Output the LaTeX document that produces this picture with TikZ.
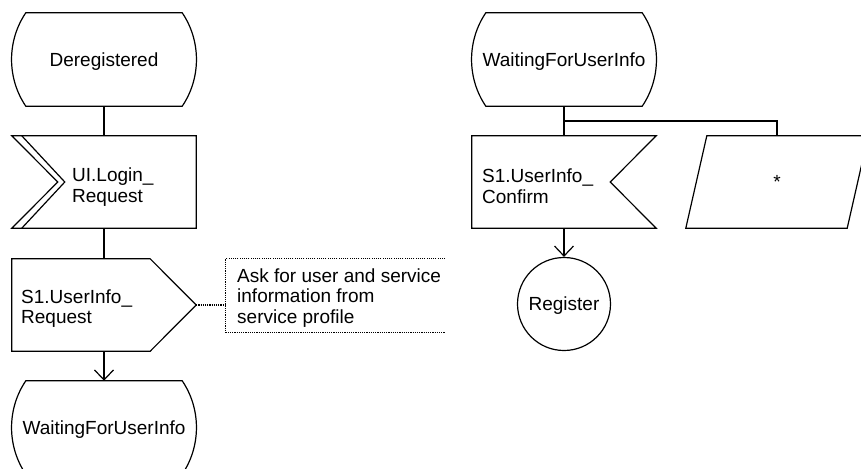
\documentclass[tikz,border=0pt]{standalone}
\usepackage{fontspec}
\setmainfont{Liberation Sans}
\usetikzlibrary{arrows.meta,calc}

\tikzset{
  sdl/.style={line width=1.2pt},
  sdlbox/.style={minimum width=184pt, minimum height=92pt, inner sep=0pt,
    text height=13.6pt, text depth=0pt},
  sdltext/.style={align=left, inner sep=0pt, anchor=base west},
  sdlflow/.style={sdl, -{Straight Barb[length=10pt,width=19pt]}},
  note/.style={line width=1.1pt, dash pattern=on 1.1pt off 1.1pt},
}

\begin{document}
\begin{tikzpicture}[x=1pt, y=-1pt, font=\fontsize{19}{20.5}\selectfont]
  \useasboundingbox (0,0) rectangle (861,468);
  \clip (0,0) rectangle (861,468);
  % left column
  \node[sdlbox, minimum height=93pt] (dereg) at (104,59.5) {Deregistered};
  \node[sdlbox] (login) at (104,182) {};
  \node[sdlbox] (request) at (104,305) {};
  \node[sdlbox, minimum height=93pt] (waitL) at (104,427.5) {WaitingForUserInfo};
  \node[sdlbox, minimum width=219pt, minimum height=73pt] (note) at (335.5,295.5) {};
  % right column
  \node[sdlbox, minimum height=93pt] (waitR) at (564,59.5) {WaitingForUserInfo};
  \node[sdlbox] (confirm) at (564,182) {};
  \node[sdlbox, minimum width=182pt] (save) at (777,182) {*};
  \node[sdlbox, sdl, draw, circle, minimum size=93pt] (register) at (564,304) {Register};
  % texts in the signal boxes (base = last line)
  \node[sdltext] (loginTxt) at (72,202) {UI.Login\_\\Request};
  \node[sdltext] (requestTxt) at (21,323.5) {S1.UserInfo\_\\Request};
  \node[sdltext] (confirmTxt) at (482,203) {S1.UserInfo\_\\Confirm};
  \node[sdltext] (noteTxt) at (237,323) {Ask for user and service\\information from\\service profile};

  % state outlines
  \foreach \s in {dereg, waitL, waitR}
    \draw[sdl] ([xshift=14pt]\s.north west) -- ([xshift=-14pt]\s.north east)
      .. controls +(19,28) and +(19,-28) .. ([xshift=-14pt]\s.south east)
      -- ([xshift=14pt]\s.south west)
      .. controls +(-19,-28) and +(-19,28) .. ([xshift=14pt]\s.north west) -- cycle;
  % input, double notch on the left
  \draw[sdl] (login.north west) -- (login.north east) -- (login.south east)
    -- (login.south west) -- ([xshift=46pt]login.west) -- cycle;
  \draw[sdl] ([xshift=10pt]login.north west) -- ([xshift=53pt]login.west)
    -- ([xshift=10pt]login.south west);
  % output
  \draw[sdl] (request.north west) -- ([xshift=-46pt]request.north east) -- (request.east)
    -- ([xshift=-46pt]request.south east) -- (request.south west) -- cycle;
  % input, notch on the right
  \draw[sdl] (confirm.north west) -- (confirm.north east) -- ([xshift=-46pt]confirm.east)
    -- (confirm.south east) -- (confirm.south west) -- cycle;
  % save
  \draw[sdl] ([xshift=21pt]save.north west) -- (save.north east)
    -- ([xshift=-21pt]save.south east) -- (save.south west) -- cycle;
  % comment
  \draw[note] (note.north east) -- (note.north west) -- (note.south west) -- (note.south east);
  \draw[note] (request.east) -- (request.east -| note.west);

  % flow lines
  \draw[sdl] (dereg) -- (login);
  \draw[sdl] (login) -- (request);
  \draw[sdlflow] (request) -- (waitL);
  \coordinate (fork) at ($(waitR.south)!0.5!(confirm.north)$);
  \draw[sdl] (waitR) -- (confirm);
  \draw[sdl] (fork) -| (save.north);
  \draw[sdlflow] (confirm) -- (register);
\end{tikzpicture}
\end{document}
